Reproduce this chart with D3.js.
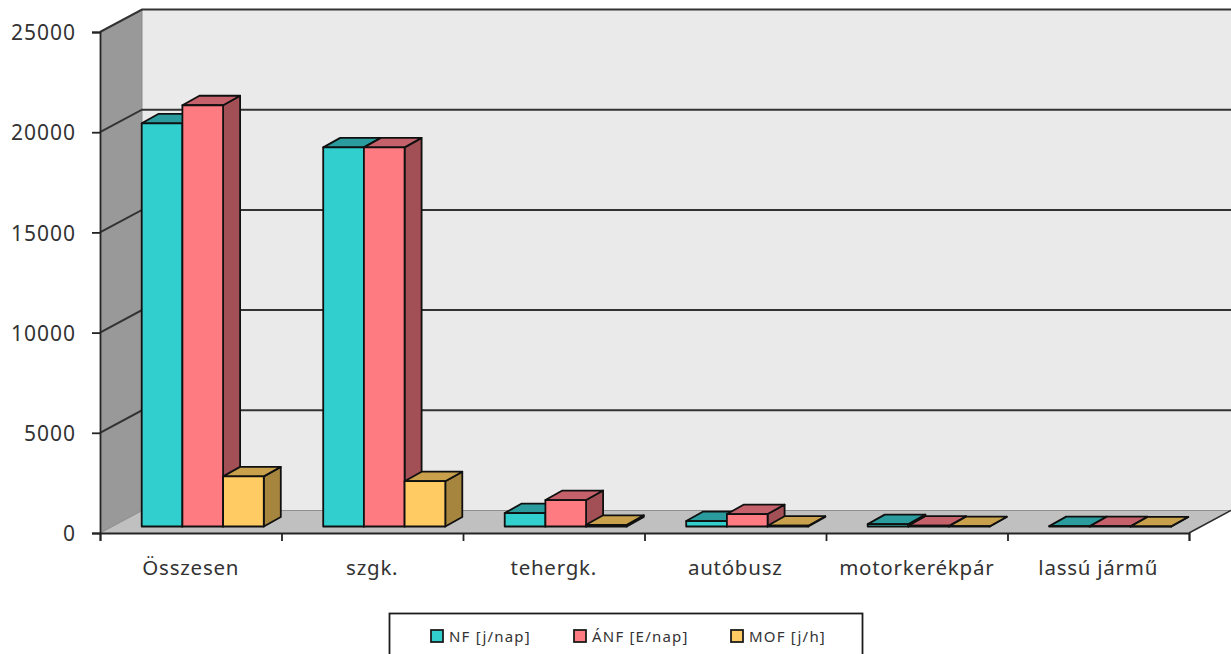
<!DOCTYPE html>
<html>
<head>
<meta charset="utf-8">
<script src="https://cdn.jsdelivr.net/npm/d3@7/dist/d3.min.js"></script>
<style>
html,body{margin:0;padding:0;background:#fff;overflow:hidden}
svg{display:block}
text{font-family:"Noto Sans",sans-serif;fill:#333333}
</style>
</head>
<body>
<svg id="chart" width="1231" height="654"></svg>
<script>
// Traffic volumes per vehicle class
const categories = ["Összesen", "szgk.", "tehergk.", "autóbusz", "motorkerékpár", "lassú jármű"];
const seriesNames = ["NF [j/nap]", "ÁNF [E/nap]", "MOF [j/h]"];
const nf  = [20120, 18920, 670, 270, 120, 20];
const anf = [21020, 18920, 1320, 620, 40, 15];
const mof = [2500, 2260, 85, 40, 15, 5];
const yTicks = [0, 5000, 10000, 15000, 20000, 25000];
const seriesValues = [nf, anf, mof];
const faceColors = [
  {front: "#32cfcf", top: "#2a9c9e", side: "#1f7c7e"},
  {front: "#ff7b82", top: "#c4616a", side: "#a25056"},
  {front: "#ffcb62", top: "#c9a04b", side: "#a6853f"}
];

const svg = d3.select("#chart");
const frontLeft = 100, frontRight = 1189, frontBase = 533, frontTop = 32;
const wallDx = 42, wallDy = -22.5;        // depth of the chart box
const barShiftX = 12, barShiftY = -6.5;   // where bars stand on the floor
const barDepthX = 17, barDepthY = -9.5;   // depth of one bar

const y = d3.scaleLinear().domain([0, 25000]).range([frontBase, frontTop]);
const x = d3.scaleBand().domain(categories).range([frontLeft, frontRight]);
const xInner = d3.scaleBand().domain(seriesNames).range([0, x.bandwidth()]).paddingInner(0).paddingOuter(0.73);
const line = "#242424";

const poly = pts => pts.map(p => p.join(",")).join(" ");

// Back wall, side wall and floor of the box
svg.append("polygon")
  .attr("points", poly([[frontLeft + wallDx, y(25000) + wallDy], [1231, y(25000) + wallDy], [1231, frontBase + wallDy], [frontLeft + wallDx, frontBase + wallDy]]))
  .attr("fill", "#eaeaea");
svg.append("polygon")
  .attr("points", poly([[frontLeft, y(25000)], [frontLeft + wallDx, y(25000) + wallDy], [frontLeft + wallDx, frontBase + wallDy], [frontLeft, frontBase]]))
  .attr("fill", "#999999");
svg.append("polygon")
  .attr("points", poly([[frontLeft, frontBase], [frontLeft + wallDx, frontBase + wallDy], [frontRight + wallDx, frontBase + wallDy], [frontRight, frontBase]]))
  .attr("fill", "#c0c0c0");
svg.append("line")
  .attr("x1", frontLeft + wallDx).attr("x2", frontLeft + wallDx)
  .attr("y1", y(25000) + wallDy).attr("y2", frontBase + wallDy)
  .attr("stroke", "#8a8a8a").attr("stroke-width", 1);

// Gridlines run along the side wall and across the back wall
const grid = svg.append("g").attr("fill", "none");
yTicks.forEach(t => {
  const isBase = t === 0;
  grid.append("polyline")
    .attr("points", poly([[frontLeft, y(t)], [frontLeft + wallDx, y(t) + wallDy], [1231, y(t) + wallDy]]))
    .attr("stroke", isBase ? "#8f8f8f" : "#333333")
    .attr("stroke-width", isBase ? 1.2 : 2);
});
svg.append("line")
  .attr("x1", frontRight).attr("y1", frontBase)
  .attr("x2", frontRight + wallDx).attr("y2", frontBase + wallDy)
  .attr("stroke", "#2b2b2b").attr("stroke-width", 1.5);

// Bars: each one is a front face plus a top and a side face
const bars = svg.append("g").attr("stroke", "#101010").attr("stroke-width", 1.8).attr("stroke-linejoin", "round");
categories.forEach((cat, c) => {
  seriesNames.forEach((name, s) => {
    const value = seriesValues[s][c];
    const x0 = x(cat) + xInner(name) + barShiftX;
    const x1 = x0 + xInner.bandwidth();
    const base = y(0) + barShiftY;
    const top = y(value) + barShiftY;
    const col = faceColors[s];
    bars.append("polygon")
      .attr("points", poly([[x1, top], [x1 + barDepthX, top + barDepthY], [x1 + barDepthX, base + barDepthY], [x1, base]]))
      .attr("fill", col.side);
    bars.append("polygon")
      .attr("points", poly([[x0, top], [x0 + barDepthX, top + barDepthY], [x1 + barDepthX, top + barDepthY], [x1, top]]))
      .attr("fill", col.top);
    bars.append("rect")
      .attr("x", x0).attr("y", top).attr("width", x1 - x0).attr("height", base - top)
      .attr("fill", col.front);
  });
});

// Axes
const yAxis = svg.append("g").attr("transform", `translate(${frontLeft},0)`)
  .call(d3.axisLeft(y).tickValues(yTicks).tickSize(8).tickPadding(16).tickFormat(d3.format("d")));
yAxis.selectAll("text").attr("font-size", 21).attr("letter-spacing", 1)
  .style("font-family", '"Noto Sans",sans-serif').attr("dy", "0.37em");
yAxis.selectAll("line,path").attr("stroke", line).attr("stroke-width", 1.8);

const xEdges = d3.range(categories.length + 1);
const xEdge = d3.scaleLinear().domain([0, categories.length]).range([frontLeft, frontRight]);
const xAxis = svg.append("g").attr("transform", `translate(0,${frontBase})`)
  .call(d3.axisBottom(xEdge).tickValues(xEdges).tickSize(8).tickFormat(""));
xAxis.selectAll("line,path").attr("stroke", line).attr("stroke-width", 1.8);

svg.append("g").selectAll("text").data(categories).join("text")
  .attr("x", d => x(d) + x.bandwidth() / 2)
  .attr("y", 575)
  .attr("text-anchor", "middle")
  .attr("font-size", 20.5)
  .attr("letter-spacing", 0.75)
  .text(d => d);

// Legend box, clipped by the bottom of the page
svg.append("rect").attr("x", 389.5).attr("y", 613.5).attr("width", 473).attr("height", 60)
  .attr("fill", "#fff").attr("stroke", "#1c1c1c").attr("stroke-width", 1.8);
const legendX = [431, 574, 731];
const legend = svg.append("g").selectAll("g").data(seriesNames).join("g")
  .attr("transform", (d, i) => `translate(${legendX[i]},630)`);
legend.append("rect").attr("width", 12).attr("height", 12)
  .attr("fill", (d, i) => faceColors[i].front).attr("stroke", "#1c1c1c").attr("stroke-width", 1.8);
legend.append("text").attr("x", 18).attr("y", 12).attr("font-size", 15).attr("letter-spacing", 1.2).text(d => d);
</script>
</body>
</html>
